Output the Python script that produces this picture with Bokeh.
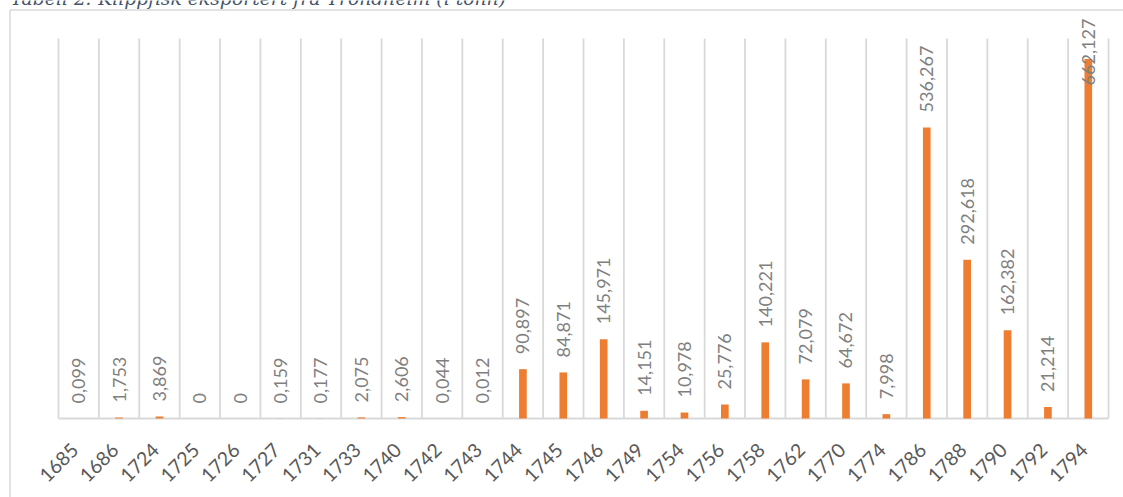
import numpy as np
from bokeh.plotting import figure
from bokeh.models import ColumnDataSource, LabelSet, Range1d, Label
from bokeh.core.properties import value
from bokeh.embed import file_html
from bokeh.resources import INLINE

title_text = "Tabell 2: Klippfisk eksportert fra Trondheim (i tonn)"

years = ["1685", "1686", "1724", "1725", "1726", "1727", "1731", "1733", "1740",
         "1742", "1743", "1744", "1745", "1746", "1749", "1754", "1756", "1758",
         "1762", "1770", "1774", "1786", "1788", "1790", "1792", "1794"]

tonn = [0.099, 1.753, 3.869, 0, 0, 0.159, 0.177, 2.075, 2.606,
        0.044, 0.012, 90.897, 84.871, 145.971, 14.151, 10.978, 25.776, 140.221,
        72.079, 64.672, 7.998, 536.267, 292.618, 162.382, 21.214, 662.127]

# ---- layout constants (canvas pixels) ----
W, H = 1123, 497
PLOT_LEFT, PLOT_RIGHT = 58, 1108
PLOT_TOP, BASELINE = 38, 418
BORDER = 9.5
Y_MAX = 700
LABEL_CAP = 586  # labels that would leave the chart are pulled down (as in Excel)

n = len(years)
CAT_PX = (PLOT_RIGHT - PLOT_LEFT) / n
UNIT_PX = (BASELINE - PLOT_TOP) / Y_MAX


def xd(px):
    return (px - PLOT_LEFT) / CAT_PX


def yd(py):
    return (BASELINE - py) / UNIT_PX


xs = [i + 0.5 for i in range(n)]
labels = ["0" if v == 0 else f"{v:.3f}".replace(".", ",") for v in tonn]
label_y = [min(v, LABEL_CAP) for v in tonn]

src = ColumnDataSource(dict(x=xs, top=tonn, label=labels, ly=label_y,
                            year=years, zero=[0] * n))

p = figure(width=W, height=H,
           x_range=Range1d(xd(0), xd(W)), y_range=Range1d(yd(H), yd(0)),
           x_axis_type=None, y_axis_type=None,
           output_backend="svg", toolbar_location=None,
           min_border_left=0, min_border_right=0, min_border_top=0, min_border_bottom=0,
           styles={"position": "absolute", "top": "0px", "left": "0px"})
p.outline_line_color = None
p.background_fill_color = "white"
p.border_fill_color = "white"
p.grid.visible = False

GRID_COLOR = "#D9D9D9"

# vertical gridlines between categories
bounds = list(range(n + 1))
p.segment(x0=bounds, y0=[0] * (n + 1), x1=bounds, y1=[Y_MAX] * (n + 1),
          line_color=GRID_COLOR, line_width=1.8)
# category axis line
p.segment(x0=[0], y0=[0], x1=[n], y1=[0], line_color=GRID_COLOR, line_width=1.8)

# chart-area border (top and left edges)
p.segment(x0=[xd(BORDER), xd(BORDER)], y0=[yd(BORDER), yd(BORDER)],
          x1=[xd(W + 5), xd(BORDER)], y1=[yd(BORDER), yd(H + 5)],
          line_color=GRID_COLOR, line_width=1.5)

p.vbar(x="x", top="top", width=0.19, source=src, fill_color="#ED7D31", line_color=None)

# data labels
p.add_layout(LabelSet(x="x", y="ly", text="label", source=src, angle=np.pi / 2,
                      text_align="left", text_baseline="middle", y_offset=15,
                      text_font=value("Lato"), text_font_size=value("18px"),
                      text_color="#7F7F7F"))

# category labels
p.add_layout(LabelSet(x="x", y="zero", text="year", source=src, angle=np.pi / 4,
                      text_align="right", text_baseline="middle",
                      x_offset=-4, y_offset=-28,
                      text_font=value("Lato"), text_font_size=value("19.5px"),
                      text_color="#595959"))

# caption (partly cut off at the top, as in the reference)
p.add_layout(Label(x=xd(10), y=yd(-2), text=title_text,
                   text_font="DejaVu Serif", text_font_style="italic",
                   text_font_size="18.8px", text_color="#44546A",
                   text_baseline="alphabetic", text_align="left"))

open("out.html", "w").write(file_html(p, INLINE))
